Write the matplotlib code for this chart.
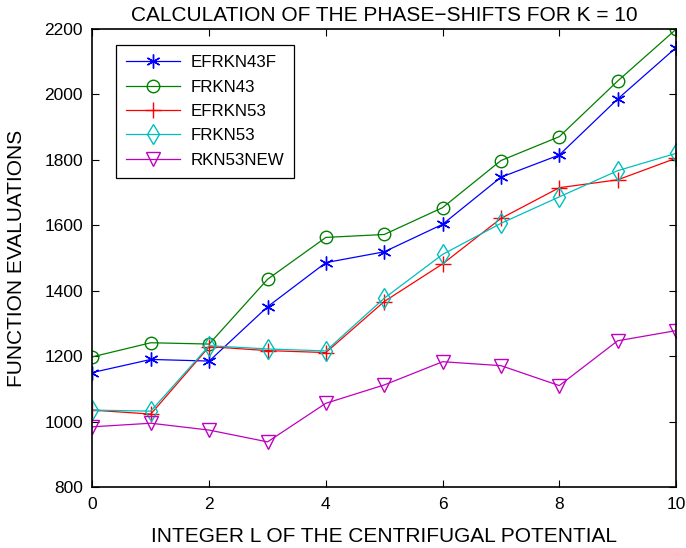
import matplotlib.pyplot as plt

plt.rcParams['font.family'] = ['Liberation Sans', 'DejaVu Sans']

L = list(range(11))
efrkn43f = [1150, 1190, 1185, 1351, 1486, 1519, 1603, 1747, 1815, 1986, 2143]
frkn43 = [1198, 1241, 1237, 1435, 1563, 1572, 1654, 1798, 1871, 2041, 2199]
efrkn53 = [1035, 1023, 1229, 1217, 1211, 1367, 1482, 1621, 1715, 1739, 1805]
frkn53 = [1035, 1032, 1232, 1222, 1216, 1377, 1511, 1606, 1687, 1767, 1820]
rkn53new = [984, 995, 974, 938, 1056, 1112, 1183, 1171, 1110, 1247, 1278]

fig = plt.figure(figsize=(6.86, 5.48), dpi=100)
ax = fig.add_axes([0.1348, 0.1113, 0.8506, 0.8357])

ax.plot(L, efrkn43f, color='#0000ff', marker=(6, 2, 0), markersize=10, lw=0.9,
        mew=1.0, label='EFRKN43F')
ax.plot(L, frkn43, color='#008000', marker='o', markersize=9, lw=0.9,
        mfc='none', label='FRKN43')
ax.plot(L, efrkn53, color='#ff0000', marker='+', markersize=11, lw=0.9,
        label='EFRKN53')
ax.plot(L, frkn53, color='#00bfbf', marker='d', markersize=10, lw=0.9,
        mfc='none', label='FRKN53')
ax.plot(L, rkn53new, color='#bf00bf', marker='v', markersize=9.5, lw=0.9,
        mfc='none', label='RKN53NEW')

ax.set_xlim(0, 10)
ax.set_ylim(800, 2200)
ax.set_xticks(range(0, 11, 2))
ax.set_yticks(range(800, 2201, 200))
ax.tick_params(direction='in', top=True, right=True, labelsize=12.5, length=5, pad=7)
for s in ax.spines.values():
    s.set_linewidth(1.2)

ax.set_title('CALCULATION OF THE PHASE\u2212SHIFTS FOR K = 10', fontsize=15, pad=6)
ax.set_xlabel('INTEGER L OF THE CENTRIFUGAL POTENTIAL', fontsize=15, labelpad=11)
ax.set_ylabel('FUNCTION EVALUATIONS', fontsize=15, labelpad=13)

leg = ax.legend(loc='upper left', bbox_to_anchor=(0.04, 0.965), fontsize=12.2,
                fancybox=False, edgecolor='black', framealpha=1,
                handlelength=3.2, handletextpad=0.6, borderpad=0.6,
                labelspacing=0.55, borderaxespad=0)
leg.get_frame().set_linewidth(0.9)

fig.savefig('out.png', dpi=100)
